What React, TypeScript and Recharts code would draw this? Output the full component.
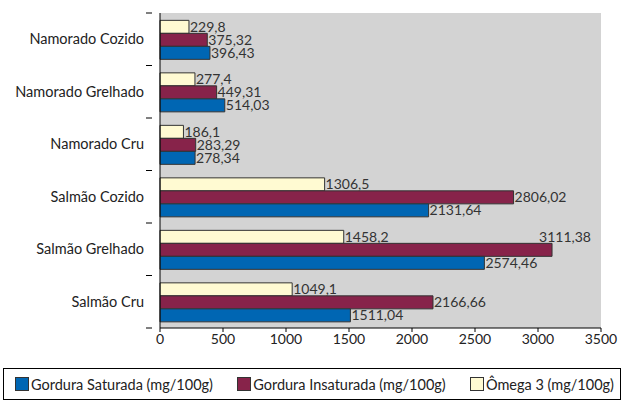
import { BarChart, Bar, XAxis, YAxis, CartesianGrid, LabelList } from "recharts";

const categories = [
  "Namorado Cozido",
  "Namorado Grelhado",
  "Namorado Cru",
  "Salmão Cozido",
  "Salmão Grelhado",
  "Salmão Cru",
];
const saturada = [396.43, 514.03, 278.34, 2131.64, 2574.46, 1511.04];
const insaturada = [375.32, 449.31, 283.29, 2806.02, 3111.38, 2166.66];
const omega3 = [229.8, 277.4, 186.1, 1306.5, 1458.2, 1049.1];
const xTicks = [0, 500, 1000, 1500, 2000, 2500, 3000, 3500];

const seriesNames = [
  "Gordura Saturada (mg/100g)",
  "Gordura Insaturada (mg/100g)",
  "Ômega 3 (mg/100g)",
];
const COLORS = ["#0066b3", "#87234a", "#fffad2"];

const data = categories.map((name, i) => ({
  name,
  saturada: saturada[i],
  insaturada: insaturada[i],
  omega3: omega3[i],
}));

const FONT = "Lato, 'Open Sans', sans-serif";
const PLOT_RIGHT = 601;

const fmt = (v: number) => String(v).replace(".", ",");

const renderLabel = (props: any) => {
  const { x, y, width, height, value } = props;
  const end = x + width;
  const txt = fmt(value);
  const tw = txt.length * 7.5;
  // too long for the plot: Excel pushes it up against the right edge
  if (end + tw > PLOT_RIGHT) {
    return (
      <text
        x={PLOT_RIGHT - 10}
        y={y + height / 2 - height}
        dy="0.35em"
        textAnchor="end"
        fill="#333"
        fontSize={14}
        fontFamily={FONT}
      >
        {txt}
      </text>
    );
  }
  return (
    <text
      x={end + 1}
      y={y + height / 2}
      dy="0.35em"
      textAnchor="start"
      fill="#333"
      fontSize={14}
      fontFamily={FONT}
    >
      {txt}
    </text>
  );
};

const CategoryTick = (props: any) => {
  const { x, y, payload } = props;
  const half = payload.offset || 26.25;
  return (
    <g>
      <text
        x={x - 8}
        y={y}
        dy="0.35em"
        textAnchor="end"
        fill="#222"
        fontSize={14.5}
        fontFamily={FONT}
      >
        {payload.value}
      </text>
      <line x1={x - 6} x2={x} y1={y + half} y2={y + half} stroke="#000" />
      {props.index === 0 && (
        <line x1={x - 6} x2={x} y1={y - half} y2={y - half} stroke="#000" />
      )}
    </g>
  );
};

export default function App() {
  return (
    <div style={{ position: "absolute", left: 0, top: 0, width: 630, height: 402, background: "#fff" }}>
      <BarChart
        width={630}
        height={350}
        data={data}
        layout="vertical"
        margin={{ top: 13, right: 29, left: 0, bottom: 0 }}
        barCategoryGap="14%"
        barGap={0}
      >
        <CartesianGrid fill="#d3d3d3" horizontal={false} vertical={false} />
        <XAxis
          type="number"
          domain={[0, 3500]}
          ticks={xTicks}
          interval={0}
          height={22}
          axisLine={{ stroke: "#000" }}
          tickLine={{ stroke: "#000" }}
          tickSize={4}
          tick={{ fill: "#222", fontSize: 14, fontFamily: FONT }}
        />
        <XAxis
          xAxisId="top"
          orientation="top"
          type="number"
          domain={[0, 3500]}
          height={0}
          tick={false}
          tickLine={false}
          axisLine={{ stroke: "#555" }}
        />
        <YAxis
          type="category"
          dataKey="name"
          width={160}
          axisLine={{ stroke: "#000" }}
          tickLine={false}
          interval={0}
          tick={<CategoryTick />}
        />
        <YAxis
          yAxisId="right"
          orientation="right"
          type="category"
          dataKey="name"
          width={0}
          tick={false}
          tickLine={false}
          axisLine={{ stroke: "#555" }}
        />
        <Bar dataKey="omega3" fill={COLORS[2]} stroke="#333" strokeWidth={1} isAnimationActive={false}>
          <LabelList dataKey="omega3" content={renderLabel} />
        </Bar>
        <Bar dataKey="insaturada" fill={COLORS[1]} stroke="#333" strokeWidth={1} isAnimationActive={false}>
          <LabelList dataKey="insaturada" content={renderLabel} />
        </Bar>
        <Bar dataKey="saturada" fill={COLORS[0]} stroke="#333" strokeWidth={1} isAnimationActive={false}>
          <LabelList dataKey="saturada" content={renderLabel} />
        </Bar>
      </BarChart>
      <div
        style={{
          position: "absolute",
          left: 3,
          top: 368,
          width: 618,
          height: 32,
          border: "1px solid #000",
          boxSizing: "border-box",
          display: "flex",
          alignItems: "center",
          justifyContent: "space-between",
          fontFamily: FONT,
          fontSize: 14.5,
          color: "#222",
          paddingLeft: 11,
          paddingRight: 6,
          whiteSpace: "nowrap",
        }}
      >
        {seriesNames.map((n, i) => (
          <span key={n} style={{ display: "flex", alignItems: "center" }}>
            <span
              style={{
                display: "inline-block",
                width: 12,
                height: 12,
                background: COLORS[i],
                border: "1px solid #333",
                marginRight: 2,
              }}
            />
            {n}
          </span>
        ))}
      </div>
    </div>
  );
}
